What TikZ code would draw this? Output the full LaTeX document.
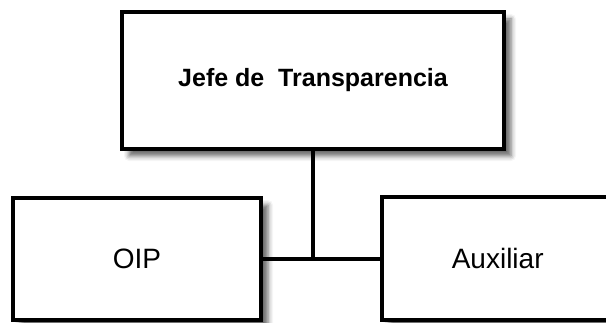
\documentclass[tikz,border=0pt]{standalone}
\usepackage{fontspec}
\setmainfont{Liberation Sans}
\usetikzlibrary{positioning,shadows.blur}
\tikzset{
  every node/.style={text=black},
  orgbox/.style={draw=black,line width=4pt,fill=white,align=center,inner sep=0pt,
    font=\fontsize{28}{34}\selectfont,
    blur shadow={shadow xshift=7pt,shadow yshift=-7pt,shadow blur radius=5pt,shadow opacity=60}},
  headbox/.style={orgbox,font=\fontsize{25}{30}\selectfont\bfseries},
  link/.style={line width=4pt,draw=black}
}
\begin{document}
\begin{tikzpicture}[x=1pt,y=-1pt]
  \useasboundingbox (0,0) rectangle (606,323);
  \node[headbox,minimum width=382pt,minimum height=137pt] (jefe) at (313,80.5) {Jefe de\ \ Transparencia};
  \node[orgbox,minimum width=248pt,minimum height=122pt] (oip) at (137,259) {OIP};
  \node[orgbox,minimum width=232pt,minimum height=123pt] (aux) at (497.7,258.5) {Auxiliar};
  \coordinate (mid) at (oip.east -| jefe.south);
  \draw[link] (jefe.south) -- (mid);
  \draw[link] (oip.east) -- (oip.east -| aux.west);
\end{tikzpicture}
\end{document}
